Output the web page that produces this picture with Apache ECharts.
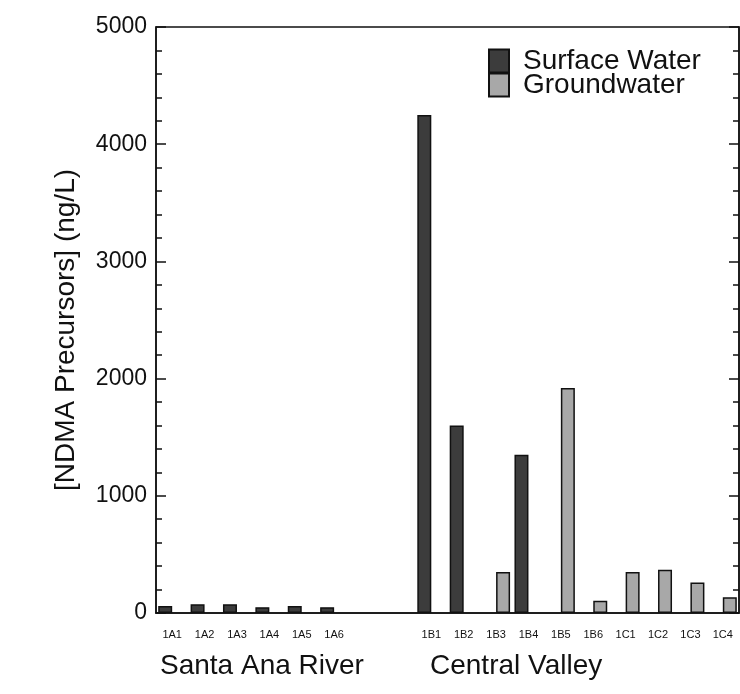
<!DOCTYPE html>
<html>
<head>
<meta charset="utf-8">
<script src="https://cdn.jsdelivr.net/npm/echarts@6/dist/echarts.min.js"></script>
<style>
  html, body { margin: 0; padding: 0; background: #fff; }
  #chart { width: 740px; height: 694px; }
</style>
</head>
<body>
<div id="chart"></div>
<script>
// Sample sites; the two blank slots separate the river and valley groups
const sites = ['1A1', '1A2', '1A3', '1A4', '1A5', '1A6', '', '',
  '1B1', '1B2', '1B3', '1B4', '1B5', '1B6', '1C1', '1C2', '1C3', '1C4'];

// NDMA precursor concentrations (ng/L)
const surfaceWater = [60, 75, 75, 50, 60, 50, null, null,
  4250, 1600, null, 1350, null, null, null, null, null, null];
const groundwater = [null, null, null, null, null, null, null, null,
  null, null, 350, null, 1920, 105, 350, 370, 260, 135];

const yTicks = [0, 1000, 2000, 3000, 4000, 5000];
const groupNames = ['Santa Ana River', 'Central Valley'];
const seriesNames = ['Surface Water', 'Groundwater'];

const FONT = '"Liberation Sans", Arial, Helvetica, sans-serif';
const chart = echarts.init(document.getElementById('chart'));

const yBase = {
  type: 'value',
  min: yTicks[0],
  max: yTicks[yTicks.length - 1],
  interval: yTicks[1] - yTicks[0],
  splitLine: { show: false },
  axisLine: { show: true, lineStyle: { color: '#111', width: 1.5 } },
  axisTick: { show: true, inside: true, length: 10, lineStyle: { color: '#111', width: 1.5 } },
  minorTick: { show: true, splitNumber: 5, length: 6, lineStyle: { color: '#111', width: 1.5 } }
};

chart.setOption({
  animation: false,
  backgroundColor: '#fff',
  grid: {
    left: 156, right: 1, top: 27, bottom: 81,
    show: true, borderColor: '#111', borderWidth: 1.5
  },
  legend: {
    orient: 'vertical',
    left: 483, top: 42,
    itemWidth: 20, itemHeight: 23, itemGap: -4,
    icon: 'rect',
    textStyle: {
      fontFamily: FONT, fontSize: 28, color: '#111', lineHeight: 23,
      padding: [0, 0, 0, 9]
    },
    data: seriesNames
  },
  xAxis: {
    type: 'category',
    data: sites,
    axisLine: { show: true, lineStyle: { color: '#111', width: 1.5 } },
    axisTick: { show: false },
    axisLabel: { fontFamily: FONT, fontSize: 11, color: '#111', margin: 16, interval: 0 }
  },
  yAxis: [
    Object.assign({}, yBase, {
      position: 'left',
      name: '[NDMA Precursors] (ng/L)',
      nameLocation: 'middle',
      nameGap: 76,
      nameTextStyle: { fontFamily: FONT, fontSize: 28, color: '#111', padding: [0, 20, 0, 0] },
      axisLabel: {
        fontFamily: FONT, fontSize: 23, color: '#111', margin: 9,
        formatter: (v) => String(v)
      }
    }),
    Object.assign({}, yBase, {
      position: 'right',
      axisLabel: { show: false }
    })
  ],
  series: [
    {
      name: seriesNames[0],
      type: 'bar',
      data: surfaceWater,
      barWidth: 14,
      barGap: '0%',
      itemStyle: { color: '#3c3c3c', borderColor: '#111', borderWidth: 1.5 }
    },
    {
      name: seriesNames[1],
      type: 'bar',
      data: groundwater,
      barWidth: 14,
      barGap: '0%',
      itemStyle: { color: '#a8a8a8', borderColor: '#111', borderWidth: 1.5 }
    }
  ],
  graphic: [
    {
      type: 'text', left: 160, top: 652,
      style: { text: groupNames[0], font: '28px ' + FONT, fill: '#111' }
    },
    {
      type: 'text', left: 430, top: 652,
      style: { text: groupNames[1], font: '28px ' + FONT, fill: '#111' }
    }
  ]
});
</script>
</body>
</html>
